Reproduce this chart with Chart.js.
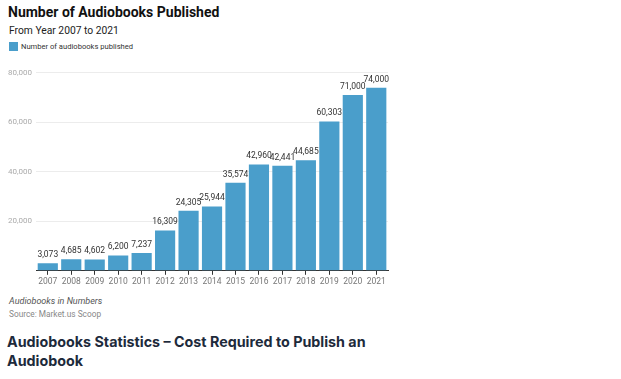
<!DOCTYPE html>
<html><head><meta charset="utf-8">
<script src="https://cdn.jsdelivr.net/npm/chart.js@4"></script>
<style>
html,body{margin:0;padding:0;background:#fff;width:621px;height:379px;overflow:hidden;font-family:Roboto,sans-serif;}
#title{position:absolute;left:8px;top:4px;font:bold 14px Roboto,sans-serif;color:#111;}
#sub{position:absolute;left:9px;top:24px;font:10.3px Roboto,sans-serif;color:#222;}
#leg{position:absolute;left:9px;top:42px;font:7.6px Roboto,sans-serif;color:#333;display:flex;align-items:center;}
#leg span.b{display:inline-block;width:9px;height:9px;background:#4a9ecb;margin-right:3px;}
#wrap{position:absolute;left:0;top:64px;width:398px;height:225px;}
#note{position:absolute;left:9px;top:296px;font:italic 9px Roboto,sans-serif;color:#555;}
#src{position:absolute;left:9px;top:309px;font:8.3px Roboto,sans-serif;color:#888;}
#h2{position:absolute;left:7px;top:332px;font:bold 14.3px Inter,sans-serif;color:#1d2a3b;line-height:19px;width:380px;}
</style></head><body>
<div id="title">Number of Audiobooks Published</div>
<div id="sub">From Year 2007 to 2021</div>
<div id="leg"><span class="b"></span><span id="legtxt"></span></div>
<div id="wrap"><canvas id="c"></canvas></div>
<div id="note">Audiobooks in Numbers</div>
<div id="src">Source: Market.us Scoop</div>
<div id="h2">Audiobooks Statistics – Cost Required to Publish an Audiobook</div>
<script>
const years = ['2007','2008','2009','2010','2011','2012','2013','2014','2015','2016','2017','2018','2019','2020','2021'];
const published = [3073,4685,4602,6200,7237,16309,24305,25944,35574,42960,42441,44685,60303,71000,74000];
const yTicks = [0,20000,40000,60000,80000];
const seriesName = 'Number of audiobooks published';
document.getElementById('legtxt').textContent = seriesName;

const valueLabels = {
  id:'valueLabels',
  afterDatasetsDraw(chart){
    const ctx = chart.ctx;
    const meta = chart.getDatasetMeta(0);
    ctx.save();
    ctx.font = '8.5px Roboto, sans-serif';
    ctx.fillStyle = '#333';
    ctx.textAlign = 'center';
    ctx.textBaseline = 'bottom';
    meta.data.forEach((bar,i)=>{
      ctx.fillText(published[i].toLocaleString('en-US'), bar.x, bar.y - 4);
    });
    ctx.restore();
  }
};

new Chart(document.getElementById('c'),{
  type:'bar',
  data:{labels:years,datasets:[{label:seriesName,data:published,backgroundColor:'#4a9ecb',barPercentage:0.86,categoryPercentage:1.0}]},
  options:{
    responsive:true,maintainAspectRatio:false,animation:false,
    layout:{padding:{left:4,right:10,top:6,bottom:0}},
    plugins:{legend:{display:false},tooltip:{enabled:false}},
    scales:{
      x:{
        grid:{display:true,drawOnChartArea:false,offset:false,tickLength:4,color:'#333'},
        border:{display:true,color:'#333',width:1},
        ticks:{color:'#777',font:{size:8.5,family:'Roboto'},padding:2,maxRotation:0}
      },
      y:{
        min:0,max:80000,
        afterBuildTicks(axis){axis.ticks = yTicks.map(v=>({value:v}));},
        grid:{color:'#ececec',drawTicks:false},
        border:{display:false},
        ticks:{color:'#aaa',font:{size:8,family:'Roboto'},padding:4,callback:v=>v===0?'':v.toLocaleString('en-US')}
      }
    }
  },
  plugins:[valueLabels]
});
</script>
</body></html>
